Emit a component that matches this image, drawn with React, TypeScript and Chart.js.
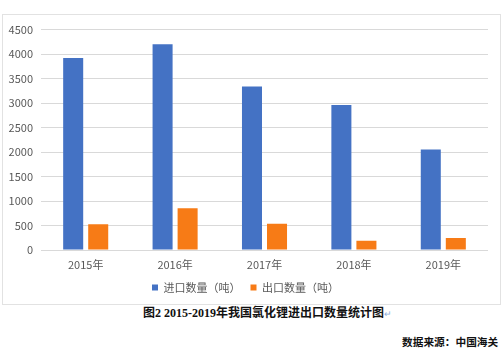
import React, { useEffect, useRef } from "react";
import { Chart, registerables } from "chart.js";

Chart.register(...registerables);

const categories = ["2015年", "2016年", "2017年", "2018年", "2019年"];
const importLabel = "进口数量（吨）";
const exportLabel = "出口数量（吨）";
const importValues = [3920, 4200, 3340, 2960, 2050];
const exportValues = [525, 850, 535, 190, 245];
const yMax = 4500;
const yStep = 500;
const captionText = "图2 2015-2019年我国氯化锂进出口数量统计图";
const sourceText = "数据来源：中国海关";

const FONT = "'Noto Sans CJK SC', 'Noto Sans', sans-serif";

export default function App() {
  const ref = useRef<HTMLCanvasElement | null>(null);

  useEffect(() => {
    if (!ref.current) return;
    const chart = new Chart(ref.current, {
      type: "bar",
      data: {
        labels: categories,
        datasets: [
          {
            label: importLabel,
            data: importValues,
            backgroundColor: "#4472C4",
            categoryPercentage: 0.56,
            barPercentage: 0.8,
          },
          {
            label: exportLabel,
            data: exportValues,
            backgroundColor: "#F77B16",
            categoryPercentage: 0.56,
            barPercentage: 0.8,
          },
        ],
      },
      options: {
        responsive: false,
        animation: false,
        devicePixelRatio: 1,
        layout: { padding: { left: 0, right: 12, top: 12, bottom: 0 } },
        plugins: {
          tooltip: { enabled: false },
          legend: {
            position: "bottom",
            labels: {
              usePointStyle: true,
              pointStyle: "rect",
              boxWidth: 6,
              boxHeight: 6,
              padding: 10,
              color: "#595959",
              font: { family: FONT, size: 11 },
            },
          },
        },
        scales: {
          x: {
            grid: { display: false, drawTicks: false },
            border: { display: false },
            ticks: {
              color: "#595959",
              padding: 8,
              font: { family: FONT, size: 11 },
            },
            afterFit: (s: any) => {
              s.height = 22;
            },
          },
          y: {
            min: 0,
            max: yMax,
            ticks: {
              stepSize: yStep,
              color: "#595959",
              padding: 8,
              font: { family: FONT, size: 11 },
              callback: (v: any) => String(v),
            },
            grid: { color: "#d9d9d9", drawTicks: false, lineWidth: 1 },
            border: { display: false },
            afterFit: (s: any) => {
              s.width = 38;
            },
          },
        },
      },
    });
    return () => chart.destroy();
  }, []);

  return (
    <div
      style={{
        position: "absolute",
        left: 0,
        top: 0,
        width: 504,
        height: 355,
        background: "#fff",
        overflow: "hidden",
      }}
    >
      <div
        style={{
          position: "absolute",
          left: 2,
          top: 14,
          width: 499,
          height: 291,
          boxSizing: "border-box",
          border: "1px solid #e2e2e2",
        }}
      />
      <canvas
        ref={ref}
        width={497}
        height={288}
        style={{ position: "absolute", left: 3, top: 15, width: 497, height: 288 }}
      />
      <div
        style={{
          position: "absolute",
          left: 143,
          top: 305,
          whiteSpace: "nowrap",
          fontFamily: "'Liberation Serif', 'Noto Sans CJK SC', serif",
          fontWeight: "bold",
          fontSize: 12,
          lineHeight: "16px",
          color: "#111",
        }}
      >
        {captionText}
        <span style={{ color: "#8fb0dc", fontWeight: "normal", fontSize: 9 }}>↵</span>
      </div>
      <div
        style={{
          position: "absolute",
          left: 402,
          top: 334,
          whiteSpace: "nowrap",
          fontFamily: "'Noto Sans CJK SC', sans-serif",
          fontWeight: "bold",
          fontSize: 10.7,
          lineHeight: "16px",
          color: "#111",
        }}
      >
        {sourceText}
      </div>
    </div>
  );
}
